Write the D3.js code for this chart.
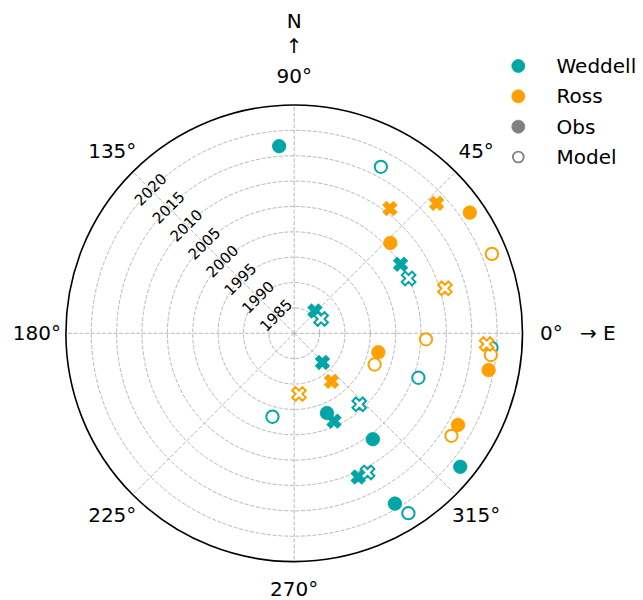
<!DOCTYPE html>
<html><head><meta charset="utf-8">
<script src="https://cdn.jsdelivr.net/npm/d3@7"></script>
<style>
html,body{margin:0;padding:0;background:#fff;}
text{font-family:"DejaVu Sans",sans-serif;}
</style></head>
<body>
<svg id="chart" width="643" height="600"></svg>
<script>
// ---- data: [angle in degrees (counter-clockwise from East), year] ----
const weddellObsCircle   = [[94.6,2017],[-67.7,1997],[-53.4,2006],[-38.8,2022],[-59.4,2019]];
const weddellModelCircle = [[62.5,2017],[-4.2,2019],[-19.7,2006],[-104.6,1997],[-57.6,2022]];
const rossObsCircle      = [[34.5,2022],[43.2,2006],[-10.7,2019],[-12.7,1997],[-29.2,2017]];
const rossModelCircle    = [[21.9,2022],[-2.6,2006],[-6.3,2019],[-21.2,1997],[-33.1,2017]];
const weddellObsX        = [[47,1986],[33,2005],[-45.9,1988],[-65.6,1999],[-66,2011]];
const weddellModelX      = [[28.1,1986],[25.6,2005],[-47.5,1999],[-62.2,2011]];
const rossObsX           = [[52.5,2011],[42.4,2018],[-52.2,1992]];
const rossModelX         = [[16.6,2011],[-3.2,2018],[-85.5,1992]];

const radialTicks = [1985,1990,1995,2000,2005,2010,2015,2020];
const angleTicks  = [0,45,90,135,180,225,270,315];
const angleLabels = ["0°","45°","90°","135°","180°","225°","270°","315°"];
const yearRange   = [1980,2025];
const legendItems = [
  {label:"Weddell", kind:"Weddell"},
  {label:"Ross",    kind:"Ross"},
  {label:"Obs",     kind:"Obs"},
  {label:"Model",   kind:"Model"}
];

// ---- layout ----
const colors = {Weddell:"#00a5a5", Ross:"#ffa000", grey:"#808080"};
const cx = 294.2, cy = 333.3, R = 228.3;
const svg = d3.select("#chart");
const g = svg.append("g").attr("transform",`translate(${cx},${cy})`);
const rScale = d3.scaleLinear().domain(yearRange).range([0,R]);
const toRad = d => d*Math.PI/180;
const pt = (deg, r) => d3.pointRadial(Math.PI/2 - toRad(deg), r);

// grid rings
const gridColor = "#b8b8b8";
g.selectAll("circle.ring").data(radialTicks).join("circle")
  .attr("class","ring").attr("r",d=>rScale(d))
  .attr("fill","none").attr("stroke",gridColor).attr("stroke-width",1)
  .attr("stroke-dasharray","4,1.7");
// spokes
g.selectAll("line.spoke").data(angleTicks).join("line")
  .attr("class","spoke")
  .attr("x1",0).attr("y1",0)
  .attr("x2",d=>pt(d,R)[0]).attr("y2",d=>pt(d,R)[1])
  .attr("stroke",gridColor).attr("stroke-width",1)
  .attr("stroke-dasharray","4,1.7");
// outer circle
g.append("circle").attr("r",R).attr("fill","none").attr("stroke","#000").attr("stroke-width",1.6);

// radial labels at 135°
g.selectAll("text.rlab").data(radialTicks).join("text")
  .attr("class","rlab")
  .attr("transform",d=>{const p=pt(135,rScale(d));return `translate(${p[0]},${p[1]}) rotate(-45)`;})
  .attr("text-anchor","middle").attr("dominant-baseline","central")
  .attr("font-size",15).attr("fill","#000")
  .text(d=>d);

// angle labels
g.selectAll("text.alab").data(angleTicks).join("text")
  .attr("class","alab")
  .attr("x",d=>pt(d, d===270 ? R+27 : R+29)[0])
  .attr("y",d=>pt(d, d===270 ? R+27 : R+29)[1])
  .attr("text-anchor","middle").attr("dominant-baseline","central")
  .attr("font-size",20).attr("fill","#000")
  .text((d,i)=>angleLabels[i]);

// direction annotations
svg.append("text").attr("x",cx).attr("y",21).attr("text-anchor","middle")
  .attr("dominant-baseline","central").attr("font-size",20).text("N");
svg.append("text").attr("x",cx).attr("y",46).attr("text-anchor","middle")
  .attr("dominant-baseline","central").attr("font-size",20).text("↑");
svg.append("text").attr("x",580).attr("y",333).attr("text-anchor","start")
  .attr("dominant-baseline","central").attr("font-size",20).text("→ E");

// markers
const ms = 13.5, msX = 14.5;
const xPath = d3.symbol().type(d3.symbolCross).size(5*Math.pow(msX/3,2))();
function drawCircles(data, color, filled){
  g.append("g").selectAll("circle").data(data).join("circle")
    .attr("cx",d=>pt(d[0],rScale(d[1]))[0])
    .attr("cy",d=>pt(d[0],rScale(d[1]))[1])
    .attr("r", filled ? ms/2 : ms/2 - 0.6)
    .attr("fill", filled ? color : "#fff")
    .attr("stroke", color).attr("stroke-width", filled ? 0.8 : 2);
}
function drawXs(data, color, filled){
  g.append("g").selectAll("path").data(data).join("path")
    .attr("d", xPath)
    .attr("transform",d=>{const p=pt(d[0],rScale(d[1]));return `translate(${p[0]},${p[1]}) rotate(45)`;})
    .attr("fill", filled ? color : "#fff")
    .attr("stroke", color).attr("stroke-width", filled ? 1.2 : 2)
    .attr("stroke-linejoin","miter");
}
drawCircles(weddellObsCircle, colors.Weddell, true);
drawCircles(rossObsCircle, colors.Ross, true);
drawXs(weddellObsX, colors.Weddell, true);
drawXs(rossObsX, colors.Ross, true);
drawCircles(weddellModelCircle, colors.Weddell, false);
drawCircles(rossModelCircle, colors.Ross, false);
drawXs(weddellModelX, colors.Weddell, false);
drawXs(rossModelX, colors.Ross, false);

// legend
const leg = svg.append("g");
const legY = d3.scalePoint().domain(legendItems.map(d=>d.label)).range([66,157]);
legendItems.forEach(it=>{
  const y = legY(it.label);
  const c = it.kind==="Weddell"?colors.Weddell: it.kind==="Ross"?colors.Ross: colors.grey;
  const open = it.kind==="Model";
  leg.append("circle").attr("cx",518.3).attr("cy",y)
    .attr("r", open?5.4:6.5)
    .attr("fill", open?"#fff":c).attr("stroke",c).attr("stroke-width", open?1.8:0.8);
  leg.append("text").attr("x",556.5).attr("y",y).attr("dominant-baseline","central")
    .attr("font-size",20).attr("fill","#000").text(it.label);
});
</script>
</body></html>
